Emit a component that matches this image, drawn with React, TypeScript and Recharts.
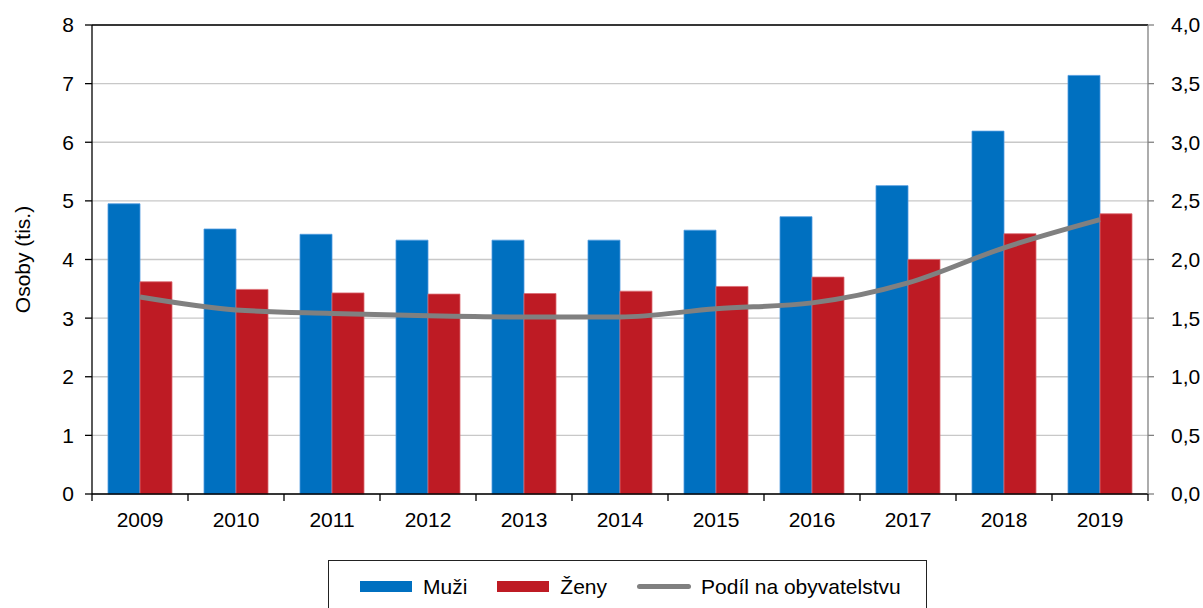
import React from 'react';
import { ComposedChart, Bar, Line, XAxis, YAxis, CartesianGrid, Legend, ReferenceLine } from 'recharts';

const years = ['2009', '2010', '2011', '2012', '2013', '2014', '2015', '2016', '2017', '2018', '2019'];
const muzi = [4.95, 4.52, 4.43, 4.33, 4.33, 4.33, 4.5, 4.73, 5.26, 6.19, 7.14];
const zeny = [3.62, 3.49, 3.43, 3.41, 3.42, 3.46, 3.54, 3.7, 4.0, 4.44, 4.78];
const podil = [1.68, 1.57, 1.54, 1.52, 1.51, 1.51, 1.58, 1.63, 1.8, 2.1, 2.34];

const leftTicks = [0, 1, 2, 3, 4, 5, 6, 7, 8];
const rightTicks = [0, 0.5, 1, 1.5, 2, 2.5, 3, 3.5, 4];
const legendOrder = ['Muži', 'Ženy', 'Podíl na obyvatelstvu'];

const BLUE = '#0070c0';
const RED = '#be1b24';
const GRAY = '#808080';
const FONT = '"Liberation Sans", Arial, sans-serif';
const FS = 21;

const W = 1203;
const H = 608;
const LEFT_W = 92;
const RIGHT_W = 55;
const HALF_BAND = (W - LEFT_W - RIGHT_W) / years.length / 2;

const chartData = years.map((year, i) => ({
    year,
    muzi: muzi[i],
    zeny: zeny[i],
    podil: podil[i],
}));

// popisky let + dílky mezi kategoriemi
function YearTick(props: any) {
    const { x, y, payload, index } = props;
    return (
        <g>
            {index === 0 && <line x1={x - HALF_BAND} y1={y} x2={x - HALF_BAND} y2={y + 7} stroke="#000" strokeWidth={1.3} />}
            <line x1={x + HALF_BAND} y1={y} x2={x + HALF_BAND} y2={y + 7} stroke="#000" strokeWidth={1.3} />
            <text x={x} y={y + 33} textAnchor="middle" fill="#000" fontSize={FS} fontFamily={FONT}>
                {payload.value}
            </text>
        </g>
    );
}

function LegendBox(props: any) {
    const items = [...(props.payload || [])].sort(
        (a: any, b: any) => legendOrder.indexOf(a.value) - legendOrder.indexOf(b.value)
    );
    return (
        <div
            style={{
                border: '1.3px solid #222',
                height: 60,
                boxSizing: 'border-box',
                paddingTop: 13,
                paddingLeft: 31,
                display: 'flex',
                alignItems: 'flex-start',
                fontFamily: FONT,
                fontSize: FS,
                color: '#000',
                background: '#fff',
                whiteSpace: 'nowrap',
            }}
        >
            {items.map((item: any) => (
                <div
                    key={item.value}
                    style={{ display: 'flex', alignItems: 'center', marginRight: 30, height: 25, flexShrink: 0 }}
                >
                    {item.type === 'line' ? (
                        <span style={{ width: 54, height: 5, borderRadius: 3, background: GRAY, marginRight: 10 }} />
                    ) : (
                        <span style={{ width: 52, height: 11, background: item.color, marginRight: 11 }} />
                    )}
                    <span>{item.value}</span>
                </div>
            ))}
        </div>
    );
}

export default function App() {
    return (
        <div style={{ position: 'absolute', left: 0, top: 0, width: W, height: H, background: '#fff', fontFamily: FONT }}>
            <ComposedChart
                width={W}
                height={H}
                data={chartData}
                margin={{ top: 25, right: 0, left: 0, bottom: 74 }}
                barGap={0}
                barCategoryGap="16.67%"
            >
                <CartesianGrid yAxisId="left" vertical={false} stroke="#c8c8c8" strokeWidth={1.3} />

                <XAxis
                    dataKey="year"
                    height={40}
                    axisLine={{ stroke: '#000', strokeWidth: 1.3 }}
                    tickLine={false}
                    tickSize={0}
                    tickMargin={0}
                    interval={0}
                    tick={<YearTick />}
                />

                <YAxis
                    yAxisId="left"
                    width={LEFT_W}
                    domain={[0, 8]}
                    ticks={leftTicks}
                    interval={0}
                    axisLine={{ stroke: '#000', strokeWidth: 1.3 }}
                    tickLine={{ stroke: '#000', strokeWidth: 1.3 }}
                    tickSize={7}
                    tickMargin={11}
                    tick={{ fill: '#000', fontSize: FS, fontFamily: FONT }}
                    label={{
                        value: 'Osoby (tis.)',
                        angle: -90,
                        position: 'insideLeft',
                        offset: 23,
                        style: { textAnchor: 'middle', fill: '#000', fontSize: FS, fontFamily: FONT },
                    }}
                />

                <YAxis
                    yAxisId="right"
                    orientation="right"
                    width={RIGHT_W}
                    domain={[0, 4]}
                    ticks={rightTicks}
                    interval={0}
                    axisLine={{ stroke: GRAY, strokeWidth: 1.3 }}
                    tickLine={{ stroke: GRAY, strokeWidth: 1.3 }}
                    tickSize={6}
                    tickMargin={17}
                    tick={{ fill: '#000', fontSize: FS, fontFamily: FONT }}
                    tickFormatter={(v: number) => v.toFixed(1).replace('.', ',')}
                />

                {/* horní okraj grafu */}
                <ReferenceLine yAxisId="left" y={8} stroke="#000" strokeWidth={1.3} />

                <Legend
                    verticalAlign="middle"
                    align="center"
                    layout="horizontal"
                    content={<LegendBox />}
                    wrapperStyle={{ left: 328, top: 560, width: 599, height: 60 }}
                />

                <Bar yAxisId="left" dataKey="muzi" name="Muži" fill={BLUE} stroke="#4f9be0" strokeWidth={0.8} isAnimationActive={false} />
                <Bar yAxisId="left" dataKey="zeny" name="Ženy" fill={RED} stroke="#dc6b72" strokeWidth={0.8} isAnimationActive={false} />
                <Line
                    yAxisId="right"
                    type="monotone"
                    dataKey="podil"
                    name="Podíl na obyvatelstvu"
                    stroke={GRAY}
                    strokeWidth={5}
                    dot={false}
                    legendType="line"
                    isAnimationActive={false}
                />
            </ComposedChart>
        </div>
    );
}
